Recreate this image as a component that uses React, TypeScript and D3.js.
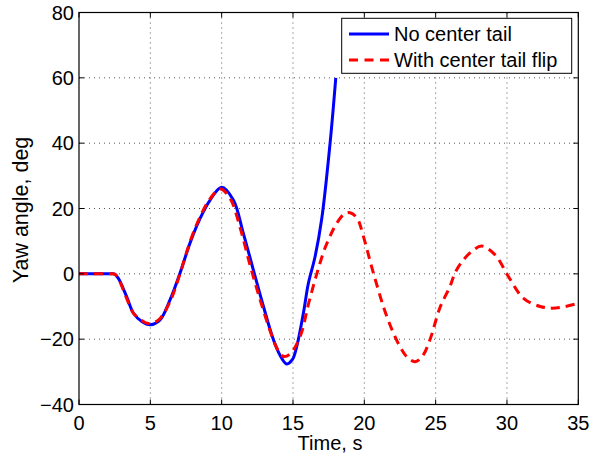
import React from "react";
import * as d3 from "d3";

const xTicks = [0, 5, 10, 15, 20, 25, 30, 35];
const yTicks = [-40, -20, 0, 20, 40, 60, 80];

const blueT = [0, 2.3, 2.5, 2.76, 3.34, 3.81, 4.4, 5, 5.68, 6.38, 7.08, 7.78, 8.49, 9.19, 10, 10.82, 11.52, 12.22, 12.93, 13.63, 14.1, 14.56, 14.95, 15.26, 15.73, 16.08, 16.55, 17.02, 17.6, 18.0];
const blueV = [0, 0, -0.1, -1.4, -7, -12, -14.6, -15.6, -14.1, -8, 0.2, 9.4, 17, 22.6, 26.5, 22.6, 12.4, 1.2, -10, -20.2, -25, -27.6, -26.3, -22.3, -12, -2.9, 5.3, 17, 40, 60];

const redT = [0, 2.3, 2.5, 2.76, 3.34, 3.81, 4.4, 4.9, 5.6, 6.38, 7.08, 7.78, 8.49, 9.19, 9.9, 10.6, 11.3, 12.0, 12.7, 13.4, 13.9, 14.33, 14.8, 15.5, 16.1, 16.67, 17.3, 18.07, 18.6, 19.0, 19.5, 19.94, 20.64, 21.58, 22.5, 23.0, 23.56, 24.1, 24.6, 25.3, 26.0, 26.37, 26.95, 27.65, 28.24, 29.17, 30.1, 31.16, 32.33, 33.15, 34.1, 35];
const redV = [0, 0, -0.1, -1.4, -7.5, -12, -14.3, -15.2, -14, -8.5, 0, 9.8, 17.5, 23, 26, 23, 14, 2.5, -8, -17.5, -23, -25.3, -24.5, -19.2, -9, 0, 8.5, 15.5, 18.3, 18.7, 17, 11.4, 0.2, -13.1, -22.3, -25.5, -26.9, -25, -20.2, -10.4, -3.9, 0.4, 4.3, 7.3, 8.5, 5.8, -0.8, -7.5, -10, -10.5, -10, -9];

const seriesNames = ["No center tail", "With center tail flip"];

const W = 597, H = 457;
const L = 79, T = 12.5, R = 578.3, B = 404.5;
const FONT = "'Liberation Sans', Arial, Helvetica, sans-serif";

export default function App() {
  const x = d3.scaleLinear().domain([0, 35]).range([L, R]);
  const y = d3.scaleLinear().domain([-40, 80]).range([B, T]);
  const line = d3.line<[number, number]>()
    .x((d) => x(d[0]))
    .y((d) => y(d[1]))
    .curve(d3.curveCatmullRom.alpha(0.5));
  const blue = blueT.map((t, i) => [t, blueV[i]] as [number, number]);
  const red = redT.map((t, i) => [t, redV[i]] as [number, number]);
  const tl = 5;
  return (
    <svg width={W} height={H} style={{ position: "absolute", left: 0, top: 0, background: "#fff" }} fontFamily={FONT}>
      <rect x={0} y={0} width={W} height={H} fill="#fff" />
      {xTicks.slice(1, -1).map((t) => (
        <line key={"gx" + t} x1={x(t)} x2={x(t)} y1={T} y2={B} stroke="#555" strokeWidth={1} strokeDasharray="1,4" />
      ))}
      {yTicks.slice(1, -1).map((t) => (
        <line key={"gy" + t} x1={L} x2={R} y1={y(t)} y2={y(t)} stroke="#555" strokeWidth={1} strokeDasharray="1,4" />
      ))}
      <defs>
        <clipPath id="clip">
          <rect x={L} y={T} width={R - L} height={B - T} />
        </clipPath>
      </defs>
      <g clipPath="url(#clip)">
        <path d={line(blue) || ""} fill="none" stroke="#0000ff" strokeWidth={3} strokeLinejoin="round" />
        <path d={line(red) || ""} fill="none" stroke="#ff0000" strokeWidth={3} strokeDasharray="9,6" />
      </g>
      <rect x={L} y={T} width={R - L} height={B - T} fill="none" stroke="#000" strokeWidth={1.2} />
      {xTicks.map((t) => (
        <g key={"tx" + t}>
          <line x1={x(t)} x2={x(t)} y1={B} y2={B - tl} stroke="#000" />
          <line x1={x(t)} x2={x(t)} y1={T} y2={T + tl} stroke="#000" />
          <text x={x(t)} y={430} textAnchor="middle" fontSize={20} fill="#000">{t}</text>
        </g>
      ))}
      {yTicks.map((t) => (
        <g key={"ty" + t}>
          <line x1={L} x2={L + tl} y1={y(t)} y2={y(t)} stroke="#000" />
          <line x1={R} x2={R - tl} y1={y(t)} y2={y(t)} stroke="#000" />
          <text x={74} y={y(t) + 7} textAnchor="end" fontSize={20} fill="#000">{t < 0 ? "\u2212" + Math.abs(t) : t}</text>
        </g>
      ))}
      <text x={330} y={450} textAnchor="middle" fontSize={20} fill="#000">Time, s</text>
      <text transform={`translate(28,210) rotate(-90)`} textAnchor="middle" fontSize={21.5} fill="#000">Yaw angle, deg</text>
      <rect x={341.7} y={18.3} width={230} height={55} fill="#fff" stroke="#000" strokeWidth={1} />
      <line x1={349} x2={389} y1={34} y2={34} stroke="#0000ff" strokeWidth={3} />
      <line x1={349} x2={389} y1={60} y2={60} stroke="#ff0000" strokeWidth={3} strokeDasharray="9,6.5" />
      <text x={394} y={41} fontSize={20} fill="#000">{seriesNames[0]}</text>
      <text x={394} y={67} fontSize={20} fill="#000">{seriesNames[1]}</text>
    </svg>
  );
}
